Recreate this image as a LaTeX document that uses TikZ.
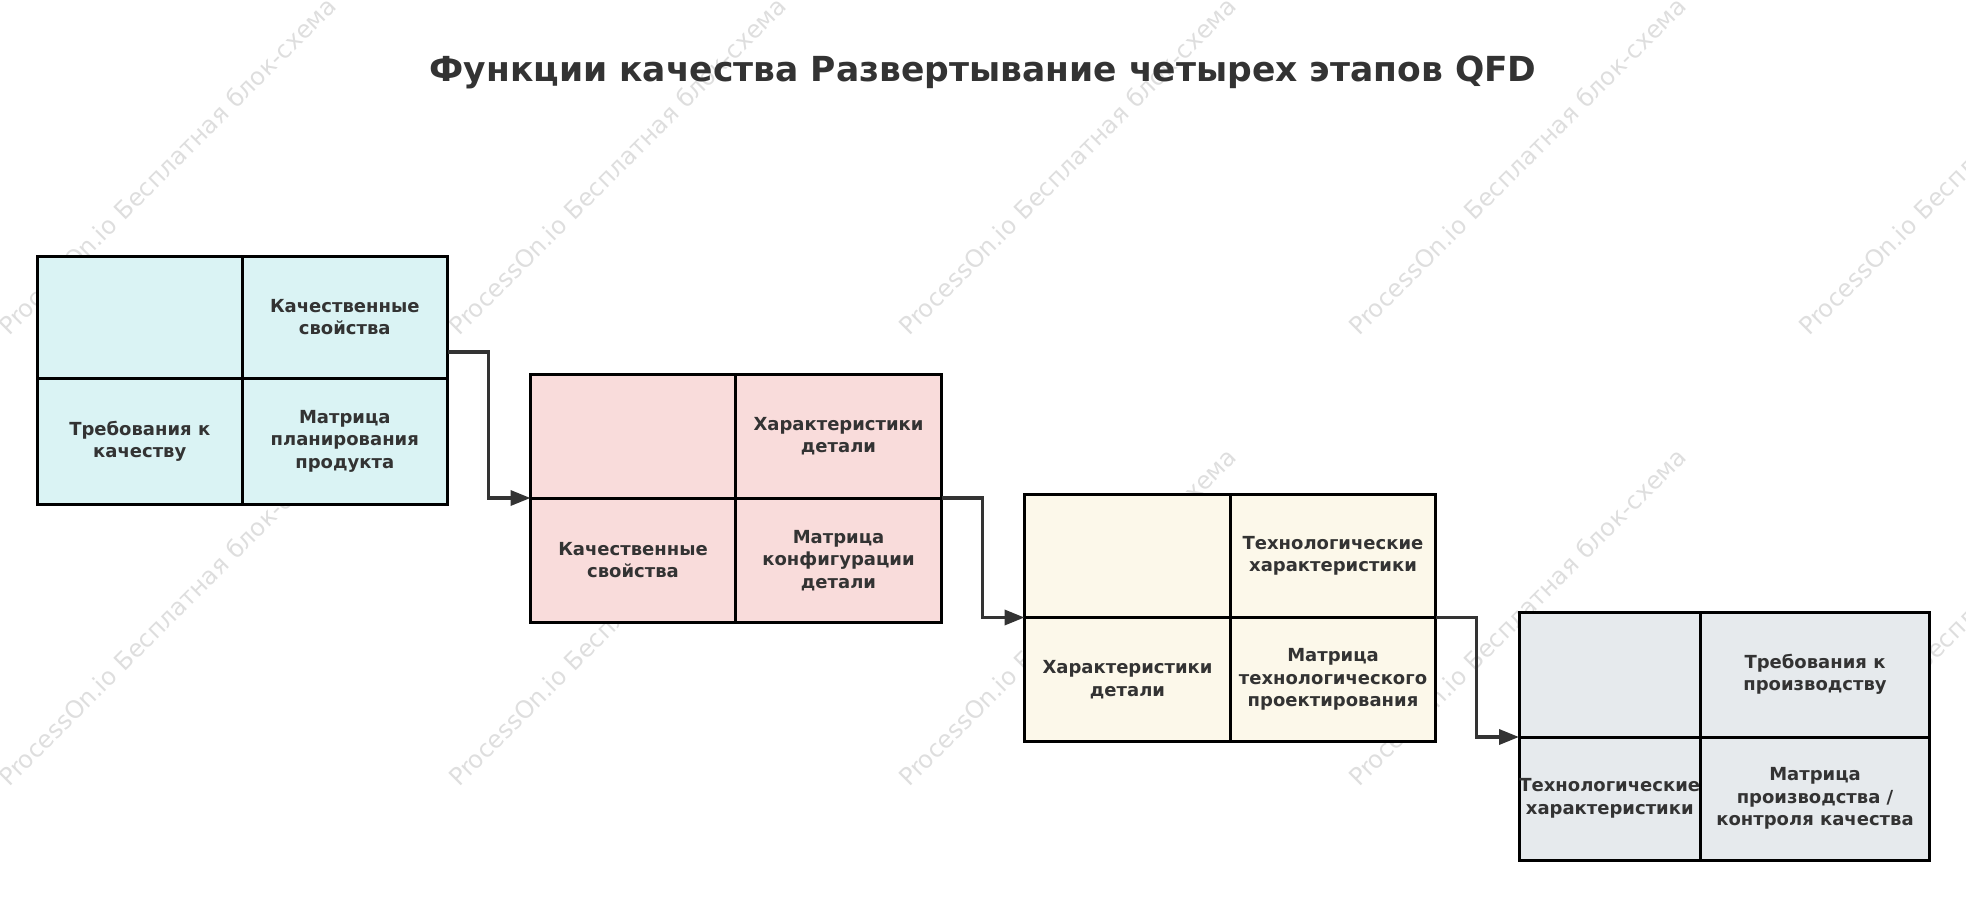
\documentclass[tikz,border=0pt]{standalone}
\usepackage{fontspec}
\setmainfont{DejaVu Sans}
\usetikzlibrary{arrows.meta,calc}
\definecolor{txt}{HTML}{333333}
\definecolor{wmark}{HTML}{DEDEDE}
\definecolor{fillA}{HTML}{DAF3F4}
\definecolor{fillB}{HTML}{F9DCDB}
\definecolor{fillC}{HTML}{FCF8EA}
\definecolor{fillD}{HTML}{E6EAED}
\begin{document}
\begin{tikzpicture}[x=1pt,y=-1pt,
  cellbox/.style={draw=black, line width=3pt, anchor=north west, inner sep=0pt, outer sep=0pt},
  lbl/.style={font=\fontsize{18}{22.5}\selectfont\bfseries, text=txt, align=center, inner sep=0pt},
  wm/.style={font=\fontsize{24.2}{24}\selectfont, text=wmark, rotate=45, anchor=base west, inner sep=0pt},
  conn/.style={draw=txt, line width=3.5pt, line join=miter, -{Triangle[length=20pt,width=15pt]}}]
\useasboundingbox (0,0) rectangle (1966,898);
% watermarks
\node[wm] (w1) at (9,337) {ProcessOn.io Бесплатная блок-схема};
\node[wm] (w2) at (459,337) {ProcessOn.io Бесплатная блок-схема};
\node[wm] (w3) at (909,337) {ProcessOn.io Бесплатная блок-схема};
\node[wm] (w4) at (1359,337) {ProcessOn.io Бесплатная блок-схема};
\node[wm] (w5) at (1809,337) {ProcessOn.io Бесплатная блок-схема};
\node[wm] (w6) at (9,788) {ProcessOn.io Бесплатная блок-схема};
\node[wm] (w7) at (459,788) {ProcessOn.io Бесплатная блок-схема};
\node[wm] (w8) at (909,788) {ProcessOn.io Бесплатная блок-схема};
\node[wm] (w9) at (1359,788) {ProcessOn.io Бесплатная блок-схема};
\node[wm] (w10) at (1809,788) {ProcessOn.io Бесплатная блок-схема};
% title
\node[font=\fontsize{34.5}{40}\selectfont\bfseries, text=txt, inner sep=0pt] (title) at (983,72) {Функции качества Развертывание четырех этапов QFD};
% group 1
\node[cellbox, fill=fillA, minimum width=204.5pt, minimum height=122.5pt] (g1tl) at (37.5,256) {};
\node[cellbox, fill=fillA, minimum width=205.5pt, minimum height=122.5pt] (g1tr) at (242,256) {};
\node[cellbox, fill=fillA, minimum width=204.5pt, minimum height=125.5pt] (g1bl) at (37.5,378.5) {};
\node[cellbox, fill=fillA, minimum width=205.5pt, minimum height=125.5pt] (g1br) at (242,378.5) {};
% group 2
\node[cellbox, fill=fillB, minimum width=205pt, minimum height=123.5pt] (g2tl) at (530.5,374.5) {};
\node[cellbox, fill=fillB, minimum width=206pt, minimum height=123.5pt] (g2tr) at (735.5,374.5) {};
\node[cellbox, fill=fillB, minimum width=205pt, minimum height=124.5pt] (g2bl) at (530.5,498) {};
\node[cellbox, fill=fillB, minimum width=206pt, minimum height=124.5pt] (g2br) at (735.5,498) {};
% group 3
\node[cellbox, fill=fillC, minimum width=206pt, minimum height=123.5pt] (g3tl) at (1024.5,494) {};
\node[cellbox, fill=fillC, minimum width=205pt, minimum height=123.5pt] (g3tr) at (1230.5,494) {};
\node[cellbox, fill=fillC, minimum width=206pt, minimum height=124pt] (g3bl) at (1024.5,617.5) {};
\node[cellbox, fill=fillC, minimum width=205pt, minimum height=124pt] (g3br) at (1230.5,617.5) {};
% group 4
\node[cellbox, fill=fillD, minimum width=181.5pt, minimum height=125pt] (g4tl) at (1519,612) {};
\node[cellbox, fill=fillD, minimum width=229pt, minimum height=125pt] (g4tr) at (1700.5,612) {};
\node[cellbox, fill=fillD, minimum width=181.5pt, minimum height=123pt] (g4bl) at (1519,737) {};
\node[cellbox, fill=fillD, minimum width=229pt, minimum height=123pt] (g4br) at (1700.5,737) {};
% labels
\node[lbl] (t1tr) at (g1tr.center) {Качественные\\свойства};
\node[lbl] (t1bl) at (g1bl.center) {Требования к\\качеству};
\node[lbl] (t1br) at (g1br.center) {Матрица\\планирования\\продукта};
\node[lbl] (t2tr) at (g2tr.center) {Характеристики\\детали};
\node[lbl] (t2bl) at (g2bl.center) {Качественные\\свойства};
\node[lbl] (t2br) at (g2br.center) {Матрица\\конфигурации\\детали};
\node[lbl] (t3tr) at (g3tr.center) {Технологические\\характеристики};
\node[lbl] (t3bl) at (g3bl.center) {Характеристики\\детали};
\node[lbl] (t3br) at (g3br.center) {Матрица\\технологического\\проектирования};
\node[lbl] (t4tr) at (g4tr.center) {Требования к\\производству};
\node[lbl] (t4bl) at (g4bl.center) {Технологические\\характеристики};
\node[lbl] (t4br) at (g4br.center) {Матрица\\производства /\\контроля качества};
% connectors
\coordinate (g1out) at ($(g1tr.north east)+(0,96)$);
\draw[conn] (g1out) -- ++(41,0) |- (g2tl.south west);
\draw[conn] (g2tr.south east) -- ++(41,0) |- (g3tl.south west);
\draw[conn] (g3tr.south east) -- ++(41,0) |- (g4tl.south west);
\end{tikzpicture}
\end{document}
